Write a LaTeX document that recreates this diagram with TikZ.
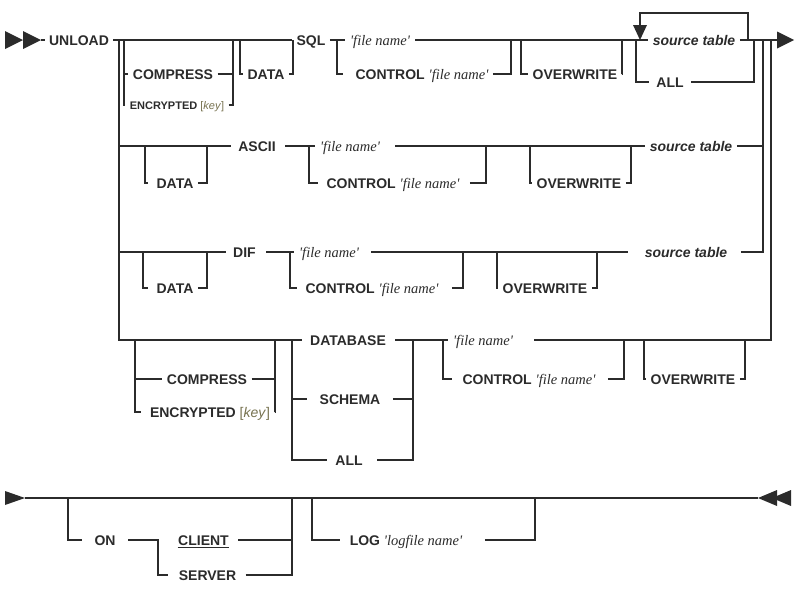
\documentclass[tikz,border=0pt]{standalone}
\usepackage{fontspec}
\setmainfont{Liberation Sans}
\newfontfamily\fnfont{Liberation Serif}
\usetikzlibrary{calc}
\definecolor{ink}{HTML}{2B2B2B}
\definecolor{keyol}{HTML}{77724F}
\newcommand{\fname}[1]{{\fnfont\mdseries\itshape\fontsize{14.5}{16}\selectfont #1}}
\newcommand{\keyarg}{{\color{keyol}\mdseries[\textit{key}]}}

\begin{document}
\begin{tikzpicture}[x=1pt,y=-1pt,line width=1.1pt,color=ink,
  kw/.style={font=\fontsize{14}{16}\selectfont\bfseries,inner xsep=4pt,inner ysep=0pt,text height=10pt,text depth=0pt},
  fn/.style={font=\fnfont\itshape\fontsize{14.5}{16}\selectfont,inner xsep=5pt,inner ysep=0pt,text height=10pt,text depth=0pt},
  st/.style={kw,font=\fontsize{14}{16}\selectfont\bfseries\itshape},
  wide/.style={kw,inner xsep=12pt}]
\useasboundingbox (0,0) rectangle (800,603);

\node[kw] (unload) at (79,40) {UNLOAD};
\node[kw] (compA) at (173,74) {COMPRESS};
\node[kw,font=\fontsize{11}{13}\selectfont\bfseries,text height=8pt] (encA) at (177,105) {ENCRYPTED \keyarg};
\node[kw] (dataA) at (266,74) {DATA};
\node[kw] (sql) at (311,40) {SQL};
\node[fn] (fileA) at (380,40) {'file name'};
\node[kw] (ctrlA) at (422,74) {CONTROL \fname{'file name'}};
\node[kw] (overA) at (575,74) {OVERWRITE};
\node[st] (srcA) at (694,40) {source table};
\node[kw] (allA) at (670,82) {ALL};

\coordinate (jA) at (119,40);
\coordinate (kA1) at (124,40);
\coordinate (kA2) at (233,40);
\coordinate (dA1) at (240,40);
\coordinate (dA2) at (293,40);
\coordinate (cA1) at (337,40);
\coordinate (cA2) at (511,40);
\coordinate (oA1) at (521,40);
\coordinate (oA2) at (622,40);
\coordinate (lA1) at (636,40);
\coordinate (lA2) at (754,40);
\coordinate (loopout) at (748,40);
\coordinate (loopin) at (640,40);
\coordinate (mB) at (763,40);
\coordinate (mD) at (771,40);
\coordinate (exitA) at (777,40);

\fill (5,31) -- (23,40) -- (5,49) -- cycle;
\fill (23,31) -- (41,40) -- (23,49) -- cycle;
\draw (41,40) -- (unload.west);
\draw (unload.east) -- (sql.west) (sql.east) -- (fileA.west) (fileA.east) -- (srcA.west) (srcA.east) -- (exitA);
\fill (exitA) ++(0,-8.5) -- ++(17,8.5) -- ++(-17,8.5) -- cycle;
\draw (kA1) |- (compA.west) (kA1) |- (encA.west) (compA.east) -| (kA2) (encA.east) -| (kA2);
\draw (dA1) |- (dataA.west) (dataA.east) -| (dA2);
\draw (cA1) |- ([xshift=-8pt]ctrlA.west) (ctrlA.east) -| (cA2);
\draw (oA1) |- (overA.west) (overA.east) -| (oA2);
\draw (lA1) |- ([xshift=-3pt]allA.west) ([xshift=3pt]allA.east) -| (lA2);
\draw (loopout) -- (748,13) -| (640,26);
\fill (633,25) -- (647,25) -- (loopin) -- cycle;

\node[kw] (ascii) at (257,146) {ASCII};
\node[kw] (dataB) at (175,183) {DATA};
\node[fn] (fileB) at (350,146) {'file name'};
\node[kw] (ctrlB) at (393,183) {CONTROL \fname{'file name'}};
\node[kw] (overB) at (579,183) {OVERWRITE};
\node[st] (srcB) at (691,146) {source table};

\coordinate (jB) at (119,146);
\coordinate (dB1) at (145,146);
\coordinate (dB2) at (207,146);
\coordinate (cB1) at (309,146);
\coordinate (cB2) at (486,146);
\coordinate (oB1) at (530,146);
\coordinate (oB2) at (631,146);
\coordinate (mB2) at (763,146);

\draw (jB) -- ([xshift=-3pt]ascii.west) ([xshift=5pt]ascii.east) -- (fileB.west) ([xshift=10pt]fileB.east) -- (srcB.west) (srcB.east) -- (mB2);
\draw (dB1) |- ([xshift=-4pt]dataB.west) (dataB.east) -| (dB2);
\draw (cB1) |- ([xshift=-4pt]ctrlB.west) ([xshift=6pt]ctrlB.east) -| (cB2);
\draw (oB1) |- (overB.west) (overB.east) -| (oB2);

\node[kw] (dif) at (244.5,252) {DIF};
\node[kw] (dataC) at (175,288) {DATA};
\node[fn] (fileC) at (329,252) {'file name'};
\node[kw] (ctrlC) at (372,288) {CONTROL \fname{'file name'}};
\node[kw] (overC) at (545,288) {OVERWRITE};
\node[st] (srcC) at (686,252) {source table};

\coordinate (jC) at (119,252);
\coordinate (dC1) at (143,252);
\coordinate (dC2) at (207,252);
\coordinate (cC1) at (290,252);
\coordinate (cC2) at (463,252);
\coordinate (oC1) at (497,252);
\coordinate (oC2) at (597,252);
\coordinate (mC2) at (763,252);

\draw (jC) -- ([xshift=-3pt]dif.west) ([xshift=6pt]dif.east) -- (fileC.west) ([xshift=7pt]fileC.east) -- ([xshift=-12pt]srcC.west) ([xshift=9pt]srcC.east) -- (mC2) -- (mB);
\draw (dC1) |- ([xshift=-4pt]dataC.west) (dataC.east) -| (dC2);
\draw (cC1) |- ([xshift=-4pt]ctrlC.west) ([xshift=9pt]ctrlC.east) -| (cC2);
\draw (oC1) |- (overC.west) (overC.east) -| (oC2);

\node[kw] (database) at (348,340) {DATABASE};
\node[kw] (compD) at (207,379) {COMPRESS};
\node[kw] (encD) at (210,412) {ENCRYPTED \keyarg};
\node[wide] (schema) at (350,399) {SCHEMA};
\node[kw] (allD) at (349,460) {ALL};
\node[fn] (fileD) at (483,340) {'file name'};
\node[kw] (ctrlD) at (529,379) {CONTROL \fname{'file name'}};
\node[kw] (overD) at (693,379) {OVERWRITE};

\coordinate (jD) at (119,340);
\coordinate (kD1) at (135,340);
\coordinate (kD2) at (275,340);
\coordinate (sD1) at (292,340);
\coordinate (sD2) at (413,340);
\coordinate (cD1) at (443,340);
\coordinate (cD2) at (624,340);
\coordinate (oD1) at (644,340);
\coordinate (oD2) at (745,340);
\coordinate (mD2) at (771,340);

\draw (jA) -- (jD) -- ([xshift=-4pt]database.west) ([xshift=5pt]database.east) -- (fileD.west) ([xshift=16pt]fileD.east) -- (mD2) -- (mD);
\draw (kD1) |- (compD.west) (kD1) |- ([xshift=-4pt]encD.west) (compD.east) -| (kD2) (encD.east) -| (kD2);
\draw (sD1) |- (schema.west) (sD1) |- ([xshift=-4pt]allD.west) (schema.east) -| (sD2) ([xshift=10pt]allD.east) -| (sD2);
\draw (cD1) |- ([xshift=-6pt]ctrlD.west) ([xshift=8pt]ctrlD.east) -| (cD2);
\draw (oD1) |- (overD.west) (overD.east) -| (oD2);

\node[kw] (on) at (105,540) {ON};
\node[kw] (client) at (203.5,540) {CLIENT};
\node[kw] (server) at (207.5,575) {SERVER};
\node[kw] (log) at (406,540) {LOG \fname{'logfile name'}};

\coordinate (startE) at (25,498);
\coordinate (endE) at (758,498);
\coordinate (qE1) at (68,498);
\coordinate (cE) at (158,540);
\coordinate (qE2) at (292,498);
\coordinate (lE1) at (312,498);
\coordinate (lE2) at (535,498);

\fill (5,491) -- (startE) -- (5,505) -- cycle;
\draw (startE) -- (endE);
\fill (endE) -- (777,490) -- (777,506) -- cycle;
\fill (772,498) -- (791,490) -- (791,506) -- cycle;
\draw (qE1) |- ([xshift=-8pt]on.west) ([xshift=8pt]on.east) -- (cE) |- ([xshift=-6pt]server.west);
\draw ([xshift=5pt]client.east) -| (qE2) ([xshift=5pt]server.east) -| (qE2);
\draw[line width=0.9pt] ([xshift=4pt,yshift=-2pt]client.south west) -- ([xshift=-4pt,yshift=-2pt]client.south east);
\draw (lE1) |- ([xshift=-5pt]log.west) ([xshift=18pt]log.east) -| (lE2);
\end{tikzpicture}
\end{document}
